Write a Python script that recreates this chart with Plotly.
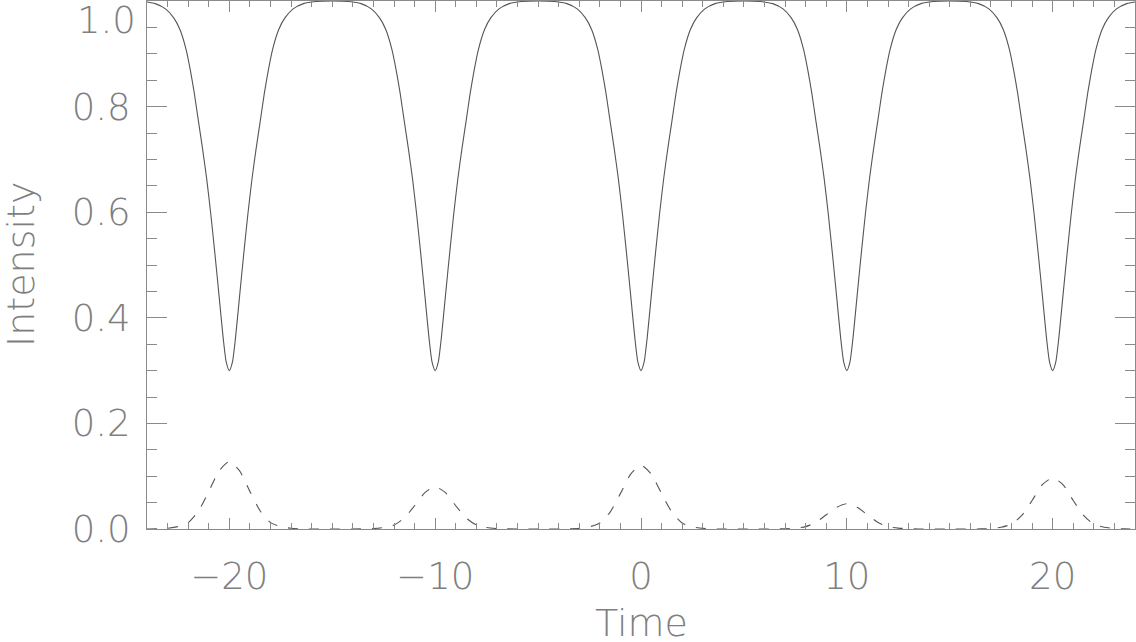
import plotly.graph_objects as go

# ---- data ----
solid_time = [
    -24.0, -23.6, -23.1, -22.7, -22.4, -22.1, -21.9, -21.7, -21.5, -21.3, -21.1, -20.9, -20.7, -20.5, -20.3, -20.15,
    -20.0, -19.85, -19.7, -19.5, -19.3, -19.1, -18.9, -18.7, -18.5, -18.3, -18.1, -17.9, -17.6, -17.3, -16.9, -16.4, -15.8,
    -15.0, -14.2, -13.6, -13.1, -12.7, -12.4, -12.1, -11.9, -11.7, -11.5, -11.3, -11.1, -10.9, -10.7, -10.5, -10.3, -10.15,
    -10.0, -9.85, -9.7, -9.5, -9.3, -9.1, -8.9, -8.7, -8.5, -8.3, -8.1, -7.9, -7.6, -7.3, -6.9, -6.4, -5.8,
    -5.0, -4.2, -3.6, -3.1, -2.7, -2.4, -2.1, -1.9, -1.7, -1.5, -1.3, -1.1, -0.9, -0.7, -0.5, -0.3, -0.15,
    0.0, 0.15, 0.3, 0.5, 0.7, 0.9, 1.1, 1.3, 1.5, 1.7, 1.9, 2.1, 2.4, 2.7, 3.1, 3.6, 4.2,
    5.0, 5.8, 6.4, 6.9, 7.3, 7.6, 7.9, 8.1, 8.3, 8.5, 8.7, 8.9, 9.1, 9.3, 9.5, 9.7, 9.85,
    10.0, 10.15, 10.3, 10.5, 10.7, 10.9, 11.1, 11.3, 11.5, 11.7, 11.9, 12.1, 12.4, 12.7, 13.1, 13.6, 14.2,
    15.0, 15.8, 16.4, 16.9, 17.3, 17.6, 17.9, 18.1, 18.3, 18.5, 18.7, 18.9, 19.1, 19.3, 19.5, 19.7, 19.85,
    20.0, 20.15, 20.3, 20.5, 20.7, 20.9, 21.1, 21.3, 21.5, 21.7, 21.9, 22.1, 22.4, 22.7, 23.1, 23.6, 24.0,
]
solid_intensity = [
    0.998, 0.995, 0.985, 0.968, 0.946, 0.908, 0.870, 0.825, 0.772, 0.720, 0.663, 0.596, 0.521, 0.442, 0.362, 0.316,
    0.300, 0.316, 0.362, 0.442, 0.521, 0.596, 0.663, 0.720, 0.772, 0.825, 0.870, 0.908, 0.946, 0.968, 0.985, 0.995, 0.999,
    1.000, 0.999, 0.995, 0.985, 0.968, 0.946, 0.908, 0.870, 0.825, 0.772, 0.720, 0.663, 0.596, 0.521, 0.442, 0.362, 0.316,
    0.300, 0.316, 0.362, 0.442, 0.521, 0.596, 0.663, 0.720, 0.772, 0.825, 0.870, 0.908, 0.946, 0.968, 0.985, 0.995, 0.999,
    1.000, 0.999, 0.995, 0.985, 0.968, 0.946, 0.908, 0.870, 0.825, 0.772, 0.720, 0.663, 0.596, 0.521, 0.442, 0.362, 0.316,
    0.300, 0.316, 0.362, 0.442, 0.521, 0.596, 0.663, 0.720, 0.772, 0.825, 0.870, 0.908, 0.946, 0.968, 0.985, 0.995, 0.999,
    1.000, 0.999, 0.995, 0.985, 0.968, 0.946, 0.908, 0.870, 0.825, 0.772, 0.720, 0.663, 0.596, 0.521, 0.442, 0.362, 0.316,
    0.300, 0.316, 0.362, 0.442, 0.521, 0.596, 0.663, 0.720, 0.772, 0.825, 0.870, 0.908, 0.946, 0.968, 0.985, 0.995, 0.999,
    1.000, 0.999, 0.995, 0.985, 0.968, 0.946, 0.908, 0.870, 0.825, 0.772, 0.720, 0.663, 0.596, 0.521, 0.442, 0.362, 0.316,
    0.300, 0.316, 0.362, 0.442, 0.521, 0.596, 0.663, 0.720, 0.772, 0.825, 0.870, 0.908, 0.946, 0.968, 0.985, 0.995, 0.998,
]

dashed_time = [
    -24.0, -23.5, -23.0, -22.5, -22.0, -21.5, -21.0, -20.5, -20.0, -19.5, -19.0, -18.5, -18.0, -17.5, -17.0, -16.5, -15.0,
    -13.5, -13.0, -12.5, -12.0, -11.5, -11.0, -10.5, -10.0, -9.5, -9.0, -8.5, -8.0, -7.5, -7.0, -6.5, -5.0,
    -3.5, -3.0, -2.5, -2.0, -1.5, -1.0, -0.5, 0.0, 0.5, 1.0, 1.5, 2.0, 2.5, 3.0, 3.5, 5.0,
    6.5, 7.0, 7.5, 8.0, 8.5, 9.0, 9.5, 10.0, 10.5, 11.0, 11.5, 12.0, 12.5, 13.0, 13.5, 15.0,
    16.5, 17.0, 17.5, 18.0, 18.5, 19.0, 19.5, 20.0, 20.5, 21.0, 21.5, 22.0, 22.5, 23.0, 23.5, 24.0,
]
dashed_intensity = [
    0.0, 0.0003, 0.0013, 0.0045, 0.012, 0.034, 0.071, 0.110, 0.128, 0.110, 0.071, 0.034, 0.012, 0.0045, 0.0013, 0.0003, 0.0,
    0.0002, 0.0008, 0.0028, 0.0075, 0.021, 0.044, 0.069, 0.080, 0.069, 0.044, 0.021, 0.0075, 0.0028, 0.0008, 0.0002, 0.0,
    0.0002, 0.0012, 0.0042, 0.0114, 0.032, 0.067, 0.104, 0.121, 0.104, 0.067, 0.032, 0.0114, 0.0042, 0.0012, 0.0002, 0.0,
    0.0001, 0.0005, 0.0017, 0.0045, 0.0127, 0.027, 0.041, 0.048, 0.041, 0.027, 0.0127, 0.0045, 0.0017, 0.0005, 0.0001, 0.0,
    0.0002, 0.0010, 0.0034, 0.0091, 0.0257, 0.054, 0.084, 0.097, 0.084, 0.054, 0.0257, 0.0091, 0.0034, 0.0010, 0.0002, 0.0,
]

x_range = [-24, 24]
y_range = [0, 1.0]
y_tickvals = [0.0, 0.2, 0.4, 0.6, 0.8, 1.0]
y_ticktext = ["0.0", "0.2", "0.4", "0.6", "0.8", ""]
top_label = "1.0"
x_title = "Time"
y_title = "Intensity"

# ---- styling ----
FONT = "DejaVu Sans"
W = 200
TEXT_COLOR = "#7f7f7f"
AXIS_COLOR = "#8a8a8a"
LINE_COLOR = "#555555"
FS = 37

def f(size=FS):
    return dict(family=FONT, size=size, color=TEXT_COLOR, weight=W)

fig = go.Figure()
fig.add_trace(go.Scatter(x=solid_time, y=solid_intensity, mode="lines",
                         line=dict(color=LINE_COLOR, width=1.1, shape="spline", smoothing=0.6),
                         showlegend=False, hoverinfo="skip"))
fig.add_trace(go.Scatter(x=dashed_time, y=dashed_intensity, mode="lines",
                         line=dict(color=LINE_COLOR, width=1.1, dash="10px,11px", shape="spline", smoothing=0.6),
                         showlegend=False, hoverinfo="skip"))

fig.update_layout(
    width=1136, height=642,
    margin=dict(l=147, r=1, t=1, b=113, autoexpand=False),
    paper_bgcolor="white", plot_bgcolor="white",
    font=f(),
    xaxis=dict(
        range=x_range, tickmode="linear", tick0=0, dtick=10, automargin=False,
        ticks="inside", ticklen=11, tickwidth=1, tickcolor=AXIS_COLOR,
        minor=dict(ticks="inside", dtick=1, ticklen=6, tickwidth=1, tickcolor=AXIS_COLOR),
        showline=True, linecolor=AXIS_COLOR, linewidth=1, mirror="allticks",
        showgrid=False, zeroline=False,
        tickfont=f(),
        ticklabelstandoff=15,
    ),
    yaxis=dict(
        range=y_range, tickmode="array", tickvals=y_tickvals, ticktext=y_ticktext, automargin=False,
        ticks="inside", ticklen=20, tickwidth=1, tickcolor=AXIS_COLOR,
        minor=dict(ticks="inside", tickmode="linear", tick0=0, dtick=0.05, ticklen=10, tickwidth=1, tickcolor=AXIS_COLOR),
        showline=True, linecolor=AXIS_COLOR, linewidth=1, mirror="allticks",
        showgrid=False, zeroline=False,
        tickfont=f(),
        ticklabelstandoff=8,
    ),
)

# top tick label (kept inside the page like the reference)
fig.add_annotation(text=top_label, xref="paper", yref="paper", x=0, y=1.0,
                   xanchor="right", yanchor="top", xshift=-9, yshift=4, showarrow=False,
                   font=f())
# axis titles
fig.add_annotation(text=x_title, xref="paper", yref="paper", x=0.5, y=0,
                   xanchor="center", yanchor="top", yshift=-70, showarrow=False,
                   font=f(38))
fig.add_annotation(text=y_title, xref="paper", yref="paper", x=-147 / 988, y=0.5,
                   xanchor="left", yanchor="middle", xshift=-3, textangle=-90, showarrow=False,
                   font=f(38))

fig.write_html("out.html", include_plotlyjs=True, config={"displayModeBar": False},
               post_script="document.body.style.margin='0';document.body.style.overflow='hidden';")
